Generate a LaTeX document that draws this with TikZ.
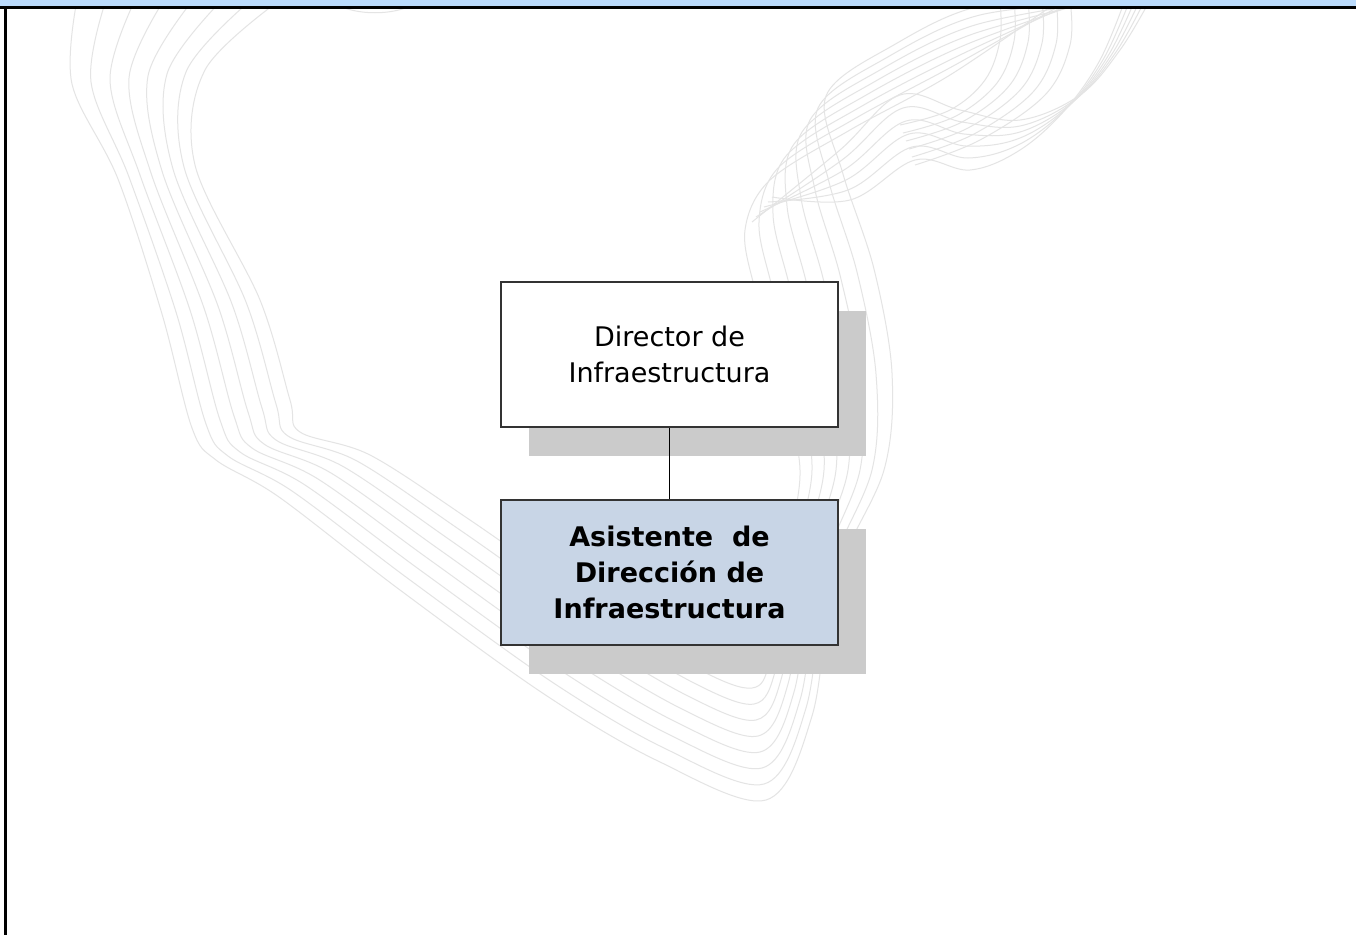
\documentclass[tikz,border=0pt]{standalone}
\usepackage{fontspec}
\setmainfont{DejaVu Sans}
\usetikzlibrary{shadows,calc}
\definecolor{barblue}{HTML}{BBDBFC}
\definecolor{boxblue}{HTML}{C8D5E6}
\definecolor{shadowgray}{HTML}{CBCBCB}
\definecolor{contour}{HTML}{E4E4E4}
\definecolor{frameline}{HTML}{333333}

\begin{document}
\begin{tikzpicture}[x=1pt,y=-1pt,
  orgbox/.style={draw=frameline, line width=1.6pt,
    minimum width=337pt, minimum height=145pt,
    align=center, inner sep=0pt,
    font=\fontsize{27}{36}\selectfont,
    drop shadow={shadow xshift=28pt, shadow yshift=-29pt,
      fill=shadowgray, opacity=1}},
  contourline/.style={draw=contour, line width=1pt},
  link/.style={draw=black, line width=1.8pt}]

\useasboundingbox (0,0) rectangle (1356,935);
\fill[white] (0,0) rectangle (1356,935);

% faint contour lines of the background map
\foreach \i in {0,...,7}{
  \draw[contourline] plot[smooth, tension=0.55] coordinates {
    ({280-29*\i},0) ({205-19*\i},{70+2*\i}) ({195-11*\i},{165+2*\i})
    ({260-14*\i},{300+2*\i}) ({290-14*\i},{400+4*\i}) ({300-12*\i},{432+4*\i})
    ({370-13*\i},{455+6*\i}) ({470-10*\i},{520+10*\i}) ({600-8*\i},{610+12*\i})
    ({700-6*\i},{670+13*\i}) ({752+2*\i},{688+16*\i}) ({770+6*\i},{660+8*\i})
    ({785+7*\i},{560+3*\i}) ({800+12*\i},470) ({780+16*\i},{380-\i})
    ({755+17*\i},{290-3*\i}) ({745+14*\i},{230-8*\i}) ({770+8*\i},{180-12*\i})
    ({850+6*\i},{130-12*\i}) ({950+5*\i},{75-10*\i}) ({1060+10*\i},0)};
}
% ripples across the upper bend
\foreach \j in {0,...,5}{
  \draw[contourline] plot[smooth, tension=0.6] coordinates {
    ({752+4*\j},{222-5*\j}) ({840+2*\j},{150+10*\j}) ({900+3*\j},{95+13*\j})
    ({960+2*\j},{110+12*\j}) (1020,{120+6*\j}) ({1080-3*\j},{95+3*\j})
    ({1120-4*\j},{50+2*\j}) ({1150-5*\j},0)};
  \draw[contourline] plot[smooth, tension=0.6] coordinates {
    ({1000+14*\j},0) ({1000+14*\j},{40+\j}) ({985+12*\j},{80+3*\j})
    ({950+6*\j},{110+6*\j}) ({900+3*\j},{125+8*\j})};
}
\draw[contourline] (330,0) .. controls (350,17) and (400,17) .. (420,0);

% title bar and frame
\fill[barblue] (0,0) rectangle (1356,7);
\draw[line width=2.6pt] (0,7.5) -- (1356,7.5);
\draw[line width=3pt] (5,7.5) -- (5,935);

% organisation chart
\node[orgbox, fill=white] (dir) at (669.5,354.5)
  {Director de\\Infraestructura};
\node[orgbox, fill=boxblue, font=\fontsize{27}{36}\selectfont\bfseries] (asis) at (669.5,572.5)
  {Asistente\ \ de\\Dirección de\\Infraestructura};
\draw[link] (dir.south) -- (asis.north);
\end{tikzpicture}
\end{document}
